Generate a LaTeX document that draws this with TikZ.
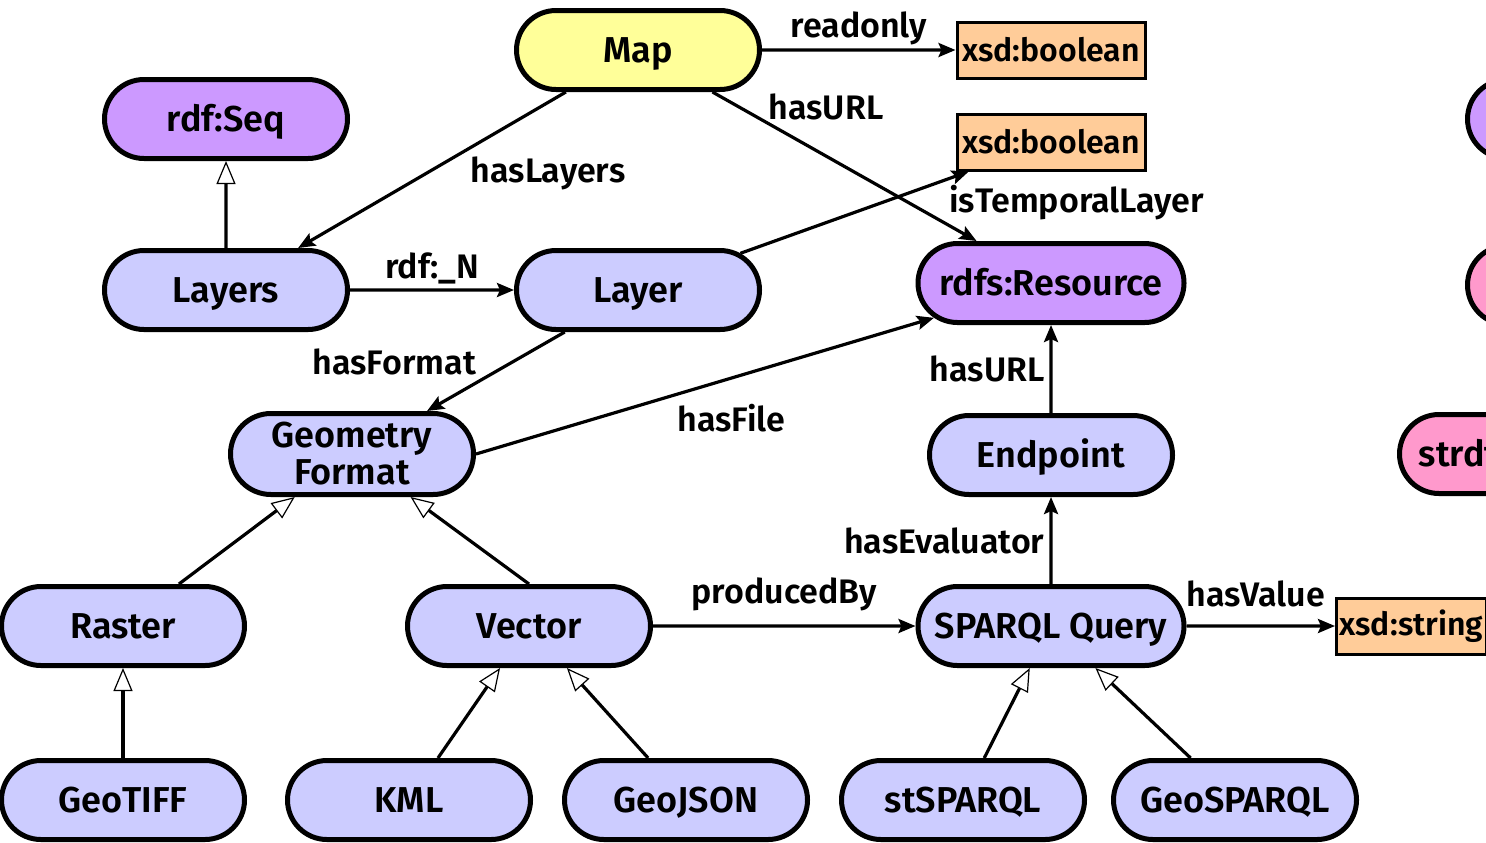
\documentclass[tikz,border=0pt]{standalone}
\usepackage{fontspec}
\IfFontExistsTF{Fira Sans SemiBold}{\newfontfamily\diagfont{Fira Sans SemiBold}}{\newfontfamily\diagfont{Fira Sans Bold}}
\usetikzlibrary{shapes.misc,arrows.meta,positioning}

\definecolor{clsblue}{HTML}{CCCCFF}
\definecolor{mapyellow}{HTML}{FFFF99}
\definecolor{rdfpurple}{HTML}{CC99FF}
\definecolor{litorange}{HTML}{FFCC99}
\definecolor{strdfpink}{HTML}{FF99CC}

\tikzset{
  cls/.style={rounded rectangle, draw, line width=2.5pt, fill=clsblue,
    minimum width=123.5pt, minimum height=39.5pt, inner sep=1pt, align=center,
    font=\diagfont\fontsize{18}{18.5}\selectfont, text height=16.2pt, text depth=3.8pt},
  wide/.style={minimum width=135pt},
  mapcls/.style={cls, fill=mapyellow},
  rdfcls/.style={cls, fill=rdfpurple},
  strdfcls/.style={cls, fill=strdfpink},
  datatype/.style={rectangle, draw, line width=1.5pt, fill=litorange,
    minimum width=94pt, minimum height=28pt, inner sep=1.5pt,
    font=\diagfont\fontsize{16}{18}\selectfont},
  prop/.style={draw, line width=1.6pt, -{Stealth[length=8.5pt,width=7pt,inset=1.5pt]}},
  isa/.style={draw, line width=1.6pt, -{Triangle[length=11.5pt,width=9.5pt,fill=white,line width=0.6pt]}},
  lbl/.style={inner sep=1pt, font=\diagfont\fontsize{17}{18}\selectfont}
}

\begin{document}
\begin{tikzpicture}
  \clip (0,0) rectangle (743pt,-421pt);
  \useasboundingbox (0,0) rectangle (743pt,-421pt);

  \node[cls] (layers) at (113pt,-145pt) {Layers};
  \node[rdfcls] (seq) [above of=layers, node distance=85.5pt] {rdf:Seq};
  \node[cls] (layer) [right of=layers, node distance=206pt] {Layer};
  \node[mapcls] (map) [above of=layer, node distance=120pt] {Map};
  \node[datatype] (bool1) [right of=map, node distance=206.5pt] {xsd:boolean};
  \node[datatype] (bool2) [below of=bool1, node distance=46pt] {xsd:boolean};
  \node[rdfcls, wide] (res) [below of=bool2, node distance=70.5pt] {rdfs:Resource};

  \node[cls, text height=34.7pt] (gf) at (176pt,-227pt) {Geometry\\Format};
  \node[cls] (endpoint) [below of=res, node distance=86pt] {Endpoint};
  \node[cls, wide] (query) [below of=endpoint, node distance=85.5pt] {SPARQL Query};
  \node[datatype, minimum width=0pt, anchor=west] (string) at (667.5pt,-313pt) {xsd:string};

  \node[cls] (vector) at (264.5pt,-313pt) {Vector};
  \node[cls] (raster) [left of=vector, node distance=203pt] {Raster};
  \node[cls] (geotiff) [below of=raster, node distance=87pt] {GeoTIFF};
  \node[cls] (kml) [right of=geotiff, node distance=143pt] {KML};
  \node[cls] (geojson) [right of=kml, node distance=138.5pt] {GeoJSON};
  \node[cls] (stsparql) [right of=geojson, node distance=138.5pt] {stSPARQL};
  \node[cls] (geosparql) [right of=stsparql, node distance=136pt] {GeoSPARQL};

  \node[rdfcls] (side1) at (794.5pt,-59.5pt) {};
  \node[strdfcls] (side2) at (794.5pt,-142.5pt) {};
    \node[cls, draw=none, fill=none, minimum width=0pt, inner sep=0pt, anchor=west] (side2txt) at ([xshift=7.5pt]side2.west) {s};
  \node[strdfcls] (strdf) at (760.5pt,-227pt) {};
    \node[cls, draw=none, fill=none, minimum width=0pt, inner sep=0pt, anchor=west] (strdftxt) at ([xshift=7pt]strdf.west) {strdf};

  \draw[prop] (map) -- (bool1) node[lbl, midway, yshift=11pt] {readonly};
  \draw[prop] (map) -- (layers) node[lbl, midway, xshift=58pt, yshift=-1.5pt] {hasLayers};
  \draw[prop] (map) -- (res) node[lbl, midway, xshift=-9.25pt, yshift=29.75pt] {hasURL};
  \draw[prop] (layer) -- (bool2) node[lbl, midway, xshift=111pt, yshift=4.75pt] {isTemporalLayer};
  \draw[prop] (layers) -- (layer) node[lbl, midway, yshift=11pt] {rdf:\_N};
  \draw[isa] (layers) -- (seq);
  \draw[prop] (layer) -- (gf) node[lbl, midway, xshift=-50.75pt, yshift=4.75pt] {hasFormat};
  \draw[prop] (gf.east) -- (res) node[lbl, midway, xshift=13.25pt, yshift=-16.25pt] {hasFile};
  \draw[prop] (endpoint) -- (res) node[lbl, midway, left=1.5pt] {hasURL};
  \draw[prop] (query) -- (endpoint) node[lbl, midway, left=1.5pt] {hasEvaluator};
  \draw[prop] (vector) -- (query) node[lbl, midway, yshift=16pt] {producedBy};
  \draw[prop] (query) -- (string) node[lbl, midway, xshift=-2.5pt, yshift=16pt] {hasValue};

  \draw[isa] (raster) -- (gf);
  \draw[isa] (vector.north) -- (gf);
  \draw[isa] (geotiff) -- (raster);
  \draw[isa] (kml) -- (vector);
  \draw[isa] (geojson) -- (vector);
  \draw[isa] (stsparql) -- (query);
  \draw[isa] (geosparql) -- (query);

\end{tikzpicture}
\end{document}
